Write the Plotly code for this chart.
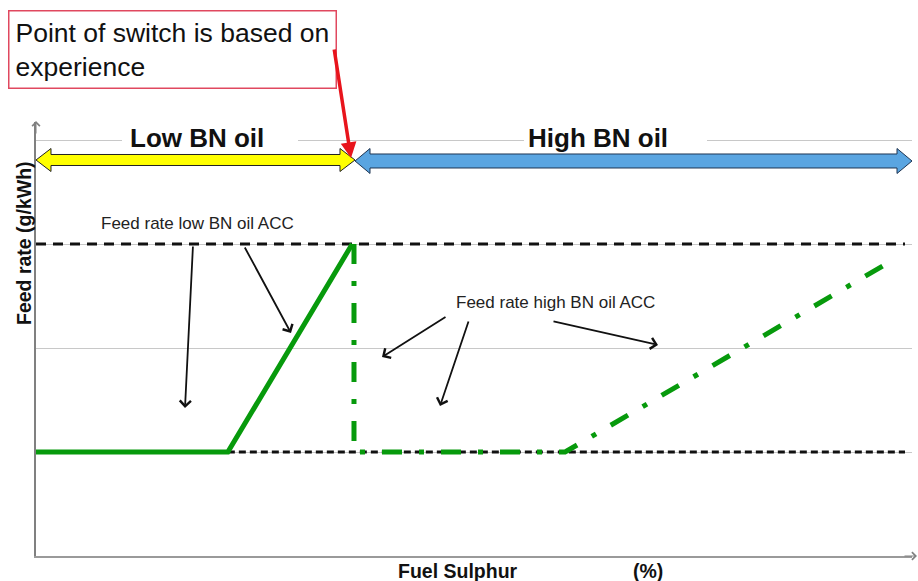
import plotly.graph_objects as go

# ---------------- data ----------------
low_bn_x = [0.0, 2.19, 3.61]
low_bn_y = [1.0, 1.0, 3.0]

high_bn_x = [3.63, 3.63, 6.04, 9.81]
high_bn_y = [3.0, 1.0, 1.0, 2.86]

acc_low_x = [0.0, 9.92]
acc_low_y = [3.0, 3.0]
acc_high_x = [2.19, 9.92]
acc_high_y = [1.0, 1.0]

grid_vals = [1, 2, 3, 4]

# ---------------- layout geometry (pixels) ----------------
W, H = 918, 581
PL, PR, PT, PB = 36, 912, 122, 556
X_RANGE = [0, 10]
Y_RANGE = [0, (PB - PT) / 104.0]


def px(xp):
    return (xp - PL) / (PR - PL)


def py(yp):
    return (PB - yp) / (PB - PT)


def double_arrow(x0, x1, yc, hb, hh, L):
    pts = [(x0, yc), (x0 + L, yc - hh), (x0 + L, yc - hb), (x1 - L, yc - hb),
           (x1 - L, yc - hh), (x1, yc), (x1 - L, yc + hh), (x1 - L, yc + hb),
           (x0 + L, yc + hb), (x0 + L, yc + hh)]
    s = "M " + " L ".join(f"{px(a):.5f},{py(b):.5f}" for a, b in pts) + " Z"
    return s


FONT = "Liberation Sans, Arial, sans-serif"
GREEN = "#079a0c"

fig = go.Figure()

fig.add_trace(go.Scatter(x=acc_low_x, y=acc_low_y, mode="lines",
                         line=dict(color="#111111", width=3, dash="10px,7px"),
                         hoverinfo="skip", showlegend=False))
fig.add_trace(go.Scatter(x=acc_high_x, y=acc_high_y, mode="lines",
                         line=dict(color="#111111", width=3, dash="7px,4px"),
                         hoverinfo="skip", showlegend=False))
fig.add_trace(go.Scatter(x=low_bn_x, y=low_bn_y, mode="lines",
                         line=dict(color=GREEN, width=5),
                         hoverinfo="skip", showlegend=False))
fig.add_trace(go.Scatter(x=high_bn_x, y=high_bn_y, mode="lines",
                         line=dict(color=GREEN, width=5, dash="20px,17px,5px,17px"),
                         hoverinfo="skip", showlegend=False))

shapes = []
# white gaps behind the headline labels
for a, b in [(122, 298), (524, 707)]:
    shapes.append(dict(type="rect", xref="paper", yref="paper",
                       x0=px(a), x1=px(b), y0=py(146), y1=py(133),
                       fillcolor="white", line=dict(width=0), layer="above"))
shapes.append(dict(type="path", xref="paper", yref="paper",
                   path=double_arrow(36, 355, 160, 5.5, 11.5, 15),
                   fillcolor="#ffff00", line=dict(color="#222222", width=1),
                   layer="above"))
shapes.append(dict(type="path", xref="paper", yref="paper",
                   path=double_arrow(355, 912, 161, 7, 12.5, 15),
                   fillcolor="#5aa5e1", line=dict(color="#1e3552", width=1),
                   layer="above"))

annotations = []


def label(text, xp, yp, size, xanchor="center", **kw):
    annotations.append(dict(text=text, x=px(xp), y=py(yp), xref="paper",
                            yref="paper", xanchor=xanchor, yanchor="middle",
                            showarrow=False,
                            font=dict(family=FONT, size=size,
                                      color=kw.pop("color", "#111111")), **kw))


# headline labels
label("<b>Low BN oil</b>", 197, 138, 26)
label("<b>High BN oil</b>", 598, 138, 26)
# callout box
annotations.append(dict(text="Point of switch is based on<br>experience",
                        x=px(8), y=py(10), xref="paper", yref="paper",
                        xanchor="left", yanchor="top", align="left",
                        showarrow=False, bgcolor="white",
                        bordercolor="#e0485f", borderwidth=1.5, borderpad=6,
                        font=dict(family=FONT, size=26.5, color="#111111")))
# red arrow
annotations.append(dict(text="", x=px(351), y=py(158), xref="paper", yref="paper",
                        ax=334 - 351, ay=48 - 158, showarrow=True,
                        arrowcolor="#e8141c", arrowwidth=3.5, arrowhead=2,
                        arrowsize=0.9))
# small labels
label("Feed rate low BN oil ACC", 99, 223, 17, xanchor="left", color="#222222")
label("Feed rate high BN oil ACC", 454, 302, 17, xanchor="left", color="#222222")
# black pointer arrows (tail -> head)
for (tx, ty), (hx, hy) in [((193, 245), (185, 408)),
                           ((244, 246), (291, 333)),
                           ((447, 316), (382, 357)),
                           ((469, 320), (440, 406)),
                           ((552, 321), (658, 345))]:
    annotations.append(dict(text="", x=px(hx), y=py(hy), xref="paper", yref="paper",
                            ax=tx - hx, ay=ty - hy, showarrow=True,
                            arrowcolor="#111111", arrowwidth=1.8, arrowhead=4,
                            arrowsize=1.2))
# axis arrowheads
annotations.append(dict(text="", x=px(36), y=py(121), xref="paper", yref="paper",
                        ax=0, ay=14, showarrow=True, arrowcolor="#808080",
                        arrowwidth=1, arrowhead=4, arrowsize=1.5))
annotations.append(dict(text="", x=px(917), y=py(556), xref="paper", yref="paper",
                        ax=-14, ay=0, showarrow=True, arrowcolor="#808080",
                        arrowwidth=1, arrowhead=4, arrowsize=1.5))
# axis titles
label("<b>Feed rate (g/kWh)</b>", 24, 243, 19.5, textangle=-90)
label("<b>Fuel Sulphur</b>", 458, 571, 19.5)
label("<b>(%)</b>", 648, 571, 19.5)

fig.update_layout(
    width=W, height=H,
    margin=dict(l=PL, r=W - PR, t=PT, b=H - PB, pad=0),
    paper_bgcolor="white", plot_bgcolor="white",
    shapes=shapes, annotations=annotations,
    xaxis=dict(range=X_RANGE, showgrid=False, zeroline=False,
               showticklabels=False, ticks="", showline=True,
               linecolor="#9a9a9a", linewidth=2, fixedrange=True),
    yaxis=dict(range=Y_RANGE, tickvals=grid_vals, showgrid=True,
               gridcolor="#c8c8c8", gridwidth=1, zeroline=False,
               showticklabels=False, ticks="", showline=True,
               linecolor="#808080", linewidth=1.5, fixedrange=True),
    showlegend=False,
)

fig.write_html("out.html", config={"displayModeBar": False},
               post_script="document.body.style.margin='0';")
